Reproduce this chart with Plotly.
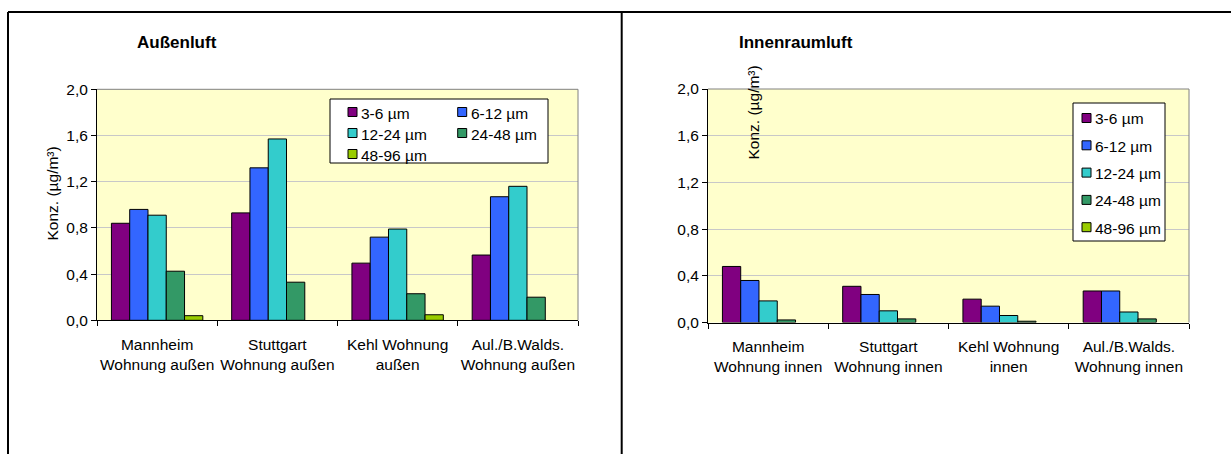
import plotly.graph_objects as go

W, H = 1231, 454

series_names = ["3-6 µm", "6-12 µm", "12-24 µm", "24-48 µm", "48-96 µm"]
series_colors = ["#800080", "#3366FF", "#33CCCC", "#339966", "#99CC00"]

cats_out = ["Mannheim<br>Wohnung außen", "Stuttgart<br>Wohnung außen",
            "Kehl Wohnung<br>außen", "Aul./B.Walds.<br>Wohnung außen"]
cats_in = ["Mannheim<br>Wohnung innen", "Stuttgart<br>Wohnung innen",
           "Kehl Wohnung<br>innen", "Aul./B.Walds.<br>Wohnung innen"]

# Außenluft values per size class (µg/m³); None = no bar drawn
out_3_6 = [0.84, 0.93, 0.495, 0.565]
out_6_12 = [0.96, 1.32, 0.72, 1.07]
out_12_24 = [0.91, 1.57, 0.79, 1.16]
out_24_48 = [0.425, 0.33, 0.23, 0.20]
out_48_96 = [0.04, None, 0.048, None]

# Innenraumluft values
in_3_6 = [0.48, 0.31, 0.20, 0.27]
in_6_12 = [0.36, 0.24, 0.14, 0.27]
in_12_24 = [0.185, 0.10, 0.06, 0.09]
in_24_48 = [0.022, 0.031, 0.011, 0.031]
in_48_96 = [None, None, None, None]

y_tickvals = [0.0, 0.4, 0.8, 1.2, 1.6, 2.0]
y_ticktext = ["0,0", "0,4", "0,8", "1,2", "1,6", "2,0"]

title_out = "Außenluft"
title_in = "Innenraumluft"
y_title = "Konz. (µg/m³)"

FONT = "Liberation Sans, Arial, sans-serif"
FS = 15.5


def X(px):
    return px / W


def Y(py):
    return 1 - py / H


fig = go.Figure()

out_vals = [out_3_6, out_6_12, out_12_24, out_24_48, out_48_96]
in_vals = [in_3_6, in_6_12, in_12_24, in_24_48, in_48_96]

for name, col, vals in zip(series_names, series_colors, out_vals):
    fig.add_trace(go.Bar(x=cats_out, y=vals, name=name, marker_color=col,
                         marker_line=dict(color="black", width=1),
                         xaxis="x", yaxis="y", showlegend=False))
for name, col, vals in zip(series_names, series_colors, in_vals):
    fig.add_trace(go.Bar(x=cats_in, y=vals, name=name, marker_color=col,
                         marker_line=dict(color="black", width=1),
                         xaxis="x2", yaxis="y2", showlegend=False))

xcommon = dict(type="category", showline=True, linecolor="black", linewidth=1,
               ticks="outside", tickson="boundaries", ticklen=5, tickcolor="black",
               tickangle=0, showgrid=False, automargin=False, ticklabelstandoff=10,
               tickfont=dict(family=FONT, size=FS, color="black"),
               range=[-0.5, 3.5], fixedrange=True)
ycommon = dict(range=[0, 2], tickvals=y_tickvals, ticktext=y_ticktext,
               showline=True, linecolor="black", linewidth=1, ticks="outside",
               ticklen=5, tickcolor="black", showgrid=True, gridcolor="#C8C8C8",
               gridwidth=1, zeroline=False, automargin=False,
               tickfont=dict(family=FONT, size=FS, color="black"), fixedrange=True)

L = dict(x0=97, x1=578, y0=89.3, y1=320.3)
R = dict(x0=708, x1=1189, y0=89, y1=322.5)

fig.update_layout(
    width=W, height=H, margin=dict(l=0, r=0, t=0, b=0, autoexpand=False),
    paper_bgcolor="white", plot_bgcolor="#FFFFCC",
    barmode="group", bargap=0.24, bargroupgap=0,
    font=dict(family=FONT, size=FS, color="black"),
    xaxis=dict(xcommon, domain=[X(L["x0"]), X(L["x1"])], anchor="y"),
    yaxis=dict(ycommon, domain=[Y(L["y1"]), Y(L["y0"])], anchor="x"),
    xaxis2=dict(xcommon, domain=[X(R["x0"]), X(R["x1"])], anchor="y2"),
    yaxis2=dict(ycommon, domain=[Y(R["y1"]), Y(R["y0"])], anchor="x2"),
)

shapes = []
# outer frame lines
shapes.append(dict(type="line", xref="paper", yref="paper", x0=X(8), x1=1, y0=Y(12), y1=Y(12),
                   line=dict(color="black", width=2)))
shapes.append(dict(type="line", xref="paper", yref="paper", x0=X(8), x1=X(8), y0=Y(12), y1=0,
                   line=dict(color="black", width=2)))
shapes.append(dict(type="line", xref="paper", yref="paper", x0=X(621.7), x1=X(621.7), y0=Y(12), y1=0,
                   line=dict(color="black", width=2)))
# plot area borders (top/right, gray)
for xa, ya in (("x", "y"), ("x2", "y2")):
    shapes.append(dict(type="line", xref=xa + " domain", yref=ya + " domain", x0=0, x1=1, y0=1, y1=1,
                       line=dict(color="#808080", width=1)))
    shapes.append(dict(type="line", xref=xa + " domain", yref=ya + " domain", x0=1, x1=1, y0=0, y1=1,
                       line=dict(color="#808080", width=1)))

annotations = []
# titles
annotations.append(dict(text="<b>" + title_out + "</b>", xref="paper", yref="paper",
                        x=X(177), y=Y(43), showarrow=False, xanchor="center", yanchor="middle",
                        font=dict(family=FONT, size=17, color="black")))
annotations.append(dict(text="<b>" + title_in + "</b>", xref="paper", yref="paper",
                        x=X(796), y=Y(43), showarrow=False, xanchor="center", yanchor="middle",
                        font=dict(family=FONT, size=17, color="black")))
# y-axis titles
annotations.append(dict(text=y_title, xref="paper", yref="paper", x=X(51.5), y=Y(194),
                        showarrow=False, textangle=-90, xanchor="center", yanchor="middle",
                        font=dict(family=FONT, size=FS, color="black")))
annotations.append(dict(text=y_title, xref="paper", yref="paper", x=X(753), y=Y(112.5),
                        showarrow=False, textangle=-90, xanchor="center", yanchor="middle",
                        font=dict(family=FONT, size=FS, color="black")))

# legend left (2 columns)
shapes.append(dict(type="rect", xref="paper", yref="paper", x0=X(330), x1=X(548), y0=Y(99), y1=Y(163),
                   fillcolor="white", line=dict(color="black", width=1)))
col_x = [348, 457.7]
row_y = [112, 133, 154]
for i, (name, col) in enumerate(zip(series_names, series_colors)):
    cx = col_x[i % 2]
    cy = row_y[i // 2]
    shapes.append(dict(type="rect", xref="paper", yref="paper", x0=X(cx), x1=X(cx + 9),
                       y0=Y(cy - 4.5), y1=Y(cy + 4.5), fillcolor=col,
                       line=dict(color="black", width=1)))
    annotations.append(dict(text=name, xref="paper", yref="paper", x=X(cx + 11), y=Y(cy + 1),
                            showarrow=False, xanchor="left", yanchor="middle",
                            font=dict(family=FONT, size=FS, color="black")))

# legend right (1 column)
shapes.append(dict(type="rect", xref="paper", yref="paper", x0=X(1073), x1=X(1165), y0=Y(103), y1=Y(241),
                   fillcolor="white", line=dict(color="black", width=1)))
for i, (name, col) in enumerate(zip(series_names, series_colors)):
    cx = 1082
    cy = 118 + i * 27.3
    shapes.append(dict(type="rect", xref="paper", yref="paper", x0=X(cx), x1=X(cx + 9),
                       y0=Y(cy - 4.5), y1=Y(cy + 4.5), fillcolor=col,
                       line=dict(color="black", width=1)))
    annotations.append(dict(text=name, xref="paper", yref="paper", x=X(cx + 11), y=Y(cy + 1),
                            showarrow=False, xanchor="left", yanchor="middle",
                            font=dict(family=FONT, size=FS, color="black")))

fig.update_layout(shapes=shapes, annotations=annotations)

fig.write_html("out.html")
